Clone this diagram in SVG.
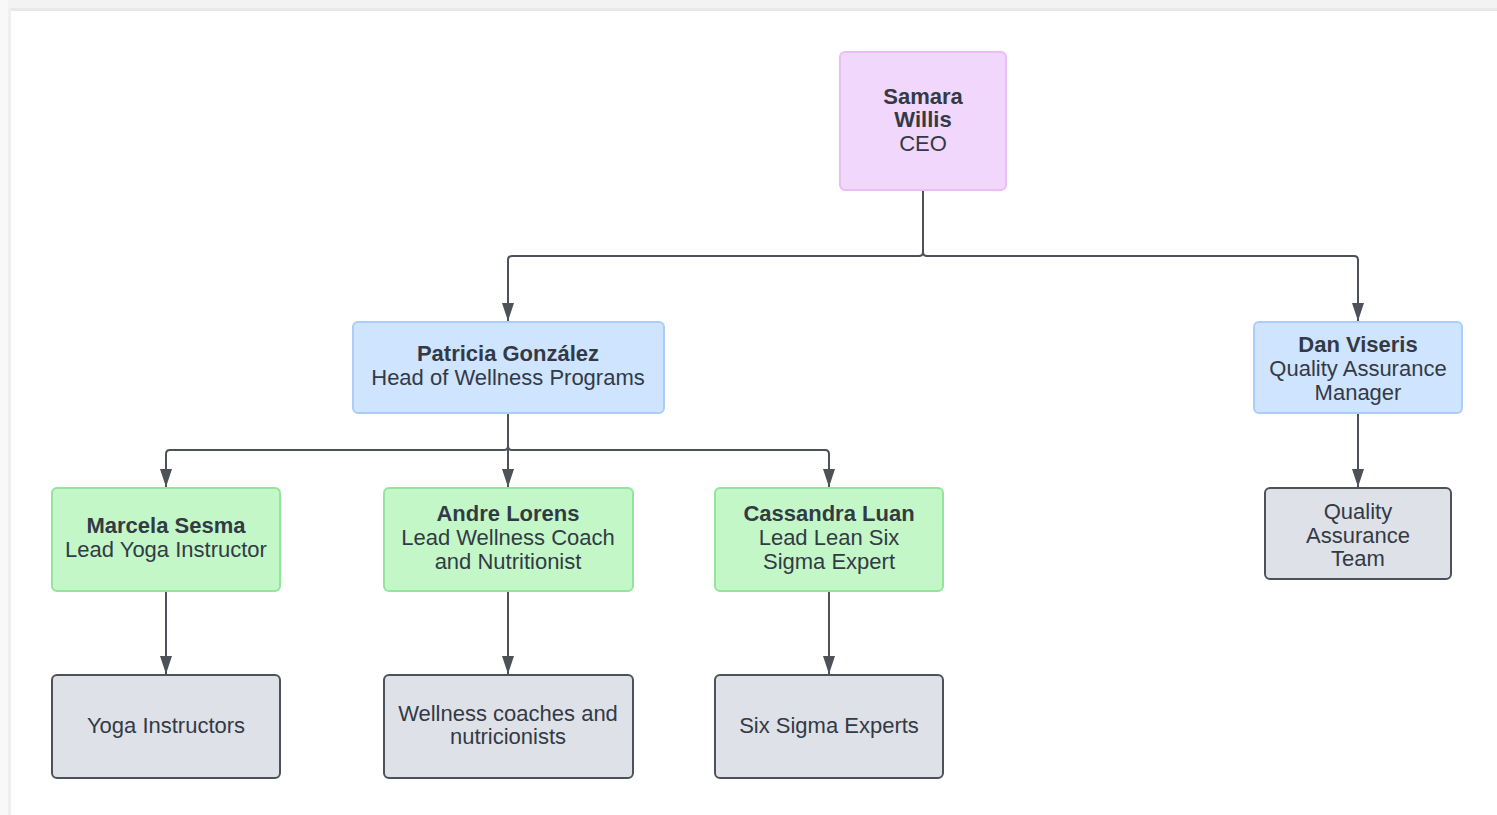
<svg xmlns="http://www.w3.org/2000/svg" width="1497" height="815" viewBox="0 0 1497 815">
<defs>
<marker id="arr" viewBox="0 0 18 14" refX="18" refY="7" markerWidth="18" markerHeight="14" markerUnits="userSpaceOnUse" orient="auto">
<path d="M0,1 L18,7 L0,13 Z" fill="#4d5259"/>
</marker>
</defs>
<style>
text{font-family:"Liberation Sans",Arial,sans-serif;font-size:22px;fill:#333a45;text-anchor:middle}
.b{font-weight:bold}
.ceo{fill:#f2d7fc;stroke:#ebbdf7;stroke-width:2}
.mgr{fill:#cfe4ff;stroke:#aacdfb;stroke-width:2}
.lead{fill:#c3f7c8;stroke:#92e59a;stroke-width:2}
.team{fill:#dee1e7;stroke:#4d5259;stroke-width:2}
.c{fill:none;stroke:#4d5259;stroke-width:2}
</style>
<rect width="1497" height="815" fill="#ffffff"/>
<rect x="0" y="0" width="1497" height="8" fill="#f3f3f3"/>
<rect x="0" y="8" width="1497" height="3" fill="#e8e8e8"/>
<rect x="0" y="0" width="8" height="815" fill="#f8f8f8"/>
<rect x="8" y="8" width="3" height="807" fill="#efefef"/>
<g id="connectors">
<path class="c" d="M923,190 V252 Q923,256 919,256 H512 Q508,256 508,260 V321" marker-end="url(#arr)"/>
<path class="c" d="M923,252 Q923,256 927,256 H1354 Q1358,256 1358,260 V321" marker-end="url(#arr)"/>
<path class="c" d="M508,413 V446 Q508,450 504,450 H170 Q166,450 166,454 V487" marker-end="url(#arr)"/>
<path class="c" d="M508,446 Q508,450 512,450 H825 Q829,450 829,454 V487" marker-end="url(#arr)"/>
<path class="c" d="M508,446 V487" marker-end="url(#arr)"/>
<path class="c" d="M1358,413 V487" marker-end="url(#arr)"/>
<path class="c" d="M166,591 V674" marker-end="url(#arr)"/>
<path class="c" d="M508,591 V674" marker-end="url(#arr)"/>
<path class="c" d="M829,591 V674" marker-end="url(#arr)"/>
</g>
<g id="ceo">
<rect class="ceo" x="840" y="52" width="166" height="138" rx="5"/>
<text x="923" y="104" class="b">Samara</text>
<text x="923" y="127" class="b">Willis</text>
<text x="923" y="151">CEO</text>
</g>
<g id="patricia">
<rect class="mgr" x="353" y="322" width="311" height="91" rx="5"/>
<text x="508" y="361" class="b">Patricia González</text>
<text x="508" y="385">Head of Wellness Programs</text>
</g>
<g id="dan">
<rect class="mgr" x="1254" y="322" width="208" height="91" rx="5"/>
<text x="1358" y="352" class="b">Dan Viseris</text>
<text x="1358" y="376">Quality Assurance</text>
<text x="1358" y="400">Manager</text>
</g>
<g id="marcela">
<rect class="lead" x="52" y="488" width="228" height="103" rx="5"/>
<text x="166" y="533" class="b">Marcela Sesma</text>
<text x="166" y="557">Lead Yoga Instructor</text>
</g>
<g id="andre">
<rect class="lead" x="384" y="488" width="249" height="103" rx="5"/>
<text x="508" y="521" class="b">Andre Lorens</text>
<text x="508" y="545">Lead Wellness Coach</text>
<text x="508" y="569">and Nutritionist</text>
</g>
<g id="cassandra">
<rect class="lead" x="715" y="488" width="228" height="103" rx="5"/>
<text x="829" y="521" class="b">Cassandra Luan</text>
<text x="829" y="545">Lead Lean Six</text>
<text x="829" y="569">Sigma Expert</text>
</g>
<g id="qa-team">
<rect class="team" x="1265" y="488" width="186" height="91" rx="5"/>
<text x="1358" y="519">Quality</text>
<text x="1358" y="543">Assurance</text>
<text x="1358" y="566">Team</text>
</g>
<g id="yoga">
<rect class="team" x="52" y="675" width="228" height="103" rx="5"/>
<text x="166" y="733">Yoga Instructors</text>
</g>
<g id="wellness">
<rect class="team" x="384" y="675" width="249" height="103" rx="5"/>
<text x="508" y="721">Wellness coaches and</text>
<text x="508" y="744">nutricionists</text>
</g>
<g id="sixsigma">
<rect class="team" x="715" y="675" width="228" height="103" rx="5"/>
<text x="829" y="733">Six Sigma Experts</text>
</g>
</svg>
